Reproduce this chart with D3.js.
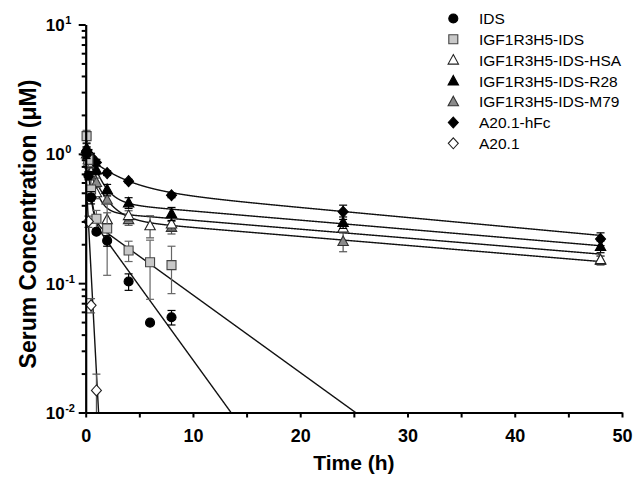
<!DOCTYPE html>
<html><head><meta charset="utf-8">
<script src="https://cdn.jsdelivr.net/npm/d3@7"></script>
<style>
html,body{margin:0;padding:0;background:#fff;}
svg{display:block;font-family:"Liberation Sans",Arial,sans-serif;}
</style></head>
<body><svg id="c" width="633" height="477"></svg>
<script>
// ---------- data ----------
const seriesNames = ["IDS","IGF1R3H5-IDS","IGF1R3H5-IDS-HSA","IGF1R3H5-IDS-R28","IGF1R3H5-IDS-M79","A20.1-hFc","A20.1"];

const idsTime = [0.083,0.25,0.5,1,2,4,6,8];
const idsConc = [1.0,0.68,0.46,0.25,0.213,0.103,0.0495,0.0545];
const idsSD   = [0.08,0.05,0.05,0.01,0.02,0.015,0,0.007];

const igfTime = [0.083,0.25,0.5,1,2,4,6,8];
const igfConc = [1.37,0.9,0.53,0.315,0.265,0.179,0.145,0.138];
const igfSD   = [0.15,0.1,0.1,0.05,0.15,0.032,0.07,0.055];

const hsaTime = [0.083,0.25,0.5,1,2,4,6,8,24,48];
const hsaConc = [1.0,0.85,0.72,0.5,0.31,0.333,0.278,0.287,0.267,0.152];
const hsaSD   = [0.1,0.08,0.07,0.05,0.04,0.03,0.054,0.03,0.02,0.01];

const r28Time = [0.083,0.25,0.5,1,2,4,8,24,48];
const r28Conc = [1.1,1.0,0.9,0.75,0.53,0.418,0.345,0.295,0.192];
const r28SD   = [0.1,0.08,0.07,0.06,0.05,0.04,0.04,0.03,0.02];

const m79Time = [0.083,0.25,0.5,1,2,4,8,24,48];
const m79Conc = [1.05,0.9,0.75,0.6,0.44,0.31,0.27,0.21,0.15];
const m79SD   = [0.08,0.07,0.05,0.05,0.03,0.03,0.03,0.035,0.012];

const hfcTime = [0.083,0.25,0.5,1,2,4,8,24,48];
const hfcConc = [1.05,1.0,0.95,0.857,0.71,0.615,0.478,0.356,0.22];
const hfcSD   = [0.08,0.07,0.06,0.05,0.03,0.02,0.02,0.045,0.025];

const a20Time = [0.25,0.5,1];
const a20Conc = [0.30,0.0674,0.0148];
const a20SD   = [0.03,0.0085,0.005];

// two-phase fit parameters
const fitA     = [1.15, 1.5, 0.9, 0.9, 0.63, 0.426, 0.735];
const fitAlpha = [4.0, 4.0, 1.66, 1.0, 0.77, 0.35, 3.58];
const fitB     = [0.356, 0.322, 0.359, 0.425, 0.316, 0.548, 0];
const fitBeta  = [0.2637, 0.138, 0.01586, 0.01626, 0.01596, 0.01773, 0];
const fitEnd   = [20, 30, 48, 48, 48, 48, 2];

const xTicks = [0,10,20,30,40,50];
const xMinor = [5,15,25,35,45];
const yTicks = [0.01,0.1,1,10];
const yExp   = ["-2","-1","0","1"];

// ---------- chart ----------
const svg = d3.select("#c");
const x = d3.scaleLinear().domain([0,50]).range([85.7,622]);
const y = d3.scaleLog().domain([0.01,10]).range([412.5,24.5]);

const styles = [
  {shape:"circle",  fill:"#000",    stroke:"#000", err:"#000"},
  {shape:"square",  fill:"#c8c8c8", stroke:"#444", err:"#666"},
  {shape:"triangle",fill:"#fff",    stroke:"#222", err:"#555"},
  {shape:"triangle",fill:"#000",    stroke:"#000", err:"#000"},
  {shape:"triangle",fill:"#8a8a8a", stroke:"#333", err:"#555"},
  {shape:"diamond", fill:"#000",    stroke:"#000", err:"#000"},
  {shape:"diamond", fill:"#fff",    stroke:"#222", err:"#555"}
];
function shapePath(s){
  if(s==="circle") return d3.symbol(d3.symbolCircle, 64)();
  if(s==="square") return "M-4.5,-4.5H4.5V4.5H-4.5Z";
  if(s==="triangle") return "M0,-5.5L5.2,4L-5.2,4Z";
  if(s==="diamond") return "M0,-5.5L5,0L0,5.5L-5,0Z";
}

const series = [
  [idsTime,idsConc,idsSD],[igfTime,igfConc,igfSD],[hsaTime,hsaConc,hsaSD],
  [r28Time,r28Conc,r28SD],[m79Time,m79Conc,m79SD],[hfcTime,hfcConc,hfcSD],[a20Time,a20Conc,a20SD]
];

svg.append("clipPath").attr("id","clip").append("rect")
  .attr("x",85.7).attr("y",24.5).attr("width",622-85.7).attr("height",412.5-24.5);

// fit lines
const line = d3.line().x(d=>x(d[0])).y(d=>y(Math.max(d[1],0.005)));
const fitG = svg.append("g").attr("clip-path","url(#clip)");
seriesNames.forEach((n,i)=>{
  const pts = d3.range(0, fitEnd[i]+1e-9, 0.02).map(t=>[t, fitA[i]*Math.exp(-fitAlpha[i]*t)+fitB[i]*Math.exp(-fitBeta[i]*t)]);
  fitG.append("path").attr("d",line(pts)).attr("fill","none").attr("stroke","#111").attr("stroke-width",1.4);
});

// error bars + markers
const order = [4,2,3,5,1,0,6];
order.forEach(i=>{
  const [T,C,S] = series[i], st = styles[i];
  const g = svg.append("g");
  T.forEach((t,k)=>{
    if(S[k]>0){
      const hi = y(C[k]+S[k]), lo = y(Math.max(C[k]-S[k],0.005));
      g.append("line").attr("x1",x(t)).attr("x2",x(t)).attr("y1",hi).attr("y2",Math.min(lo,412.5)).attr("stroke",st.err).attr("stroke-width",1.2);
      g.append("line").attr("x1",x(t)-4).attr("x2",x(t)+4).attr("y1",hi).attr("y2",hi).attr("stroke",st.err).attr("stroke-width",1.2);
      if(lo<412.5) g.append("line").attr("x1",x(t)-4).attr("x2",x(t)+4).attr("y1",lo).attr("y2",lo).attr("stroke",st.err).attr("stroke-width",1.2);
    }
  });
  T.forEach((t,k)=>{
    g.append("path").attr("d",shapePath(st.shape)).attr("transform",`translate(${x(t)},${y(C[k])})`)
      .attr("fill",st.fill).attr("stroke",st.stroke).attr("stroke-width",1.1);
  });
});

// axes
const yMinor = [];
[0.01,0.1,1].forEach(d=>{for(let m=2;m<=9;m++) yMinor.push(d*m);});
const yAx = svg.append("g").attr("transform","translate(85.7,0)")
  .call(d3.axisLeft(y).tickValues(yTicks).tickSize(7).tickFormat(()=>"" ).tickSizeOuter(0));
svg.append("g").attr("transform","translate(85.7,0)")
  .call(d3.axisLeft(y).tickValues(yMinor).tickSize(4).tickFormat(()=>"").tickSizeOuter(0))
  .select(".domain").remove();
const xAx = svg.append("g").attr("transform","translate(0,412.5)")
  .call(d3.axisBottom(x).tickValues(xTicks).tickSize(5).tickSizeOuter(0).tickFormat(d3.format("d")));
svg.append("g").attr("transform","translate(0,412.5)")
  .call(d3.axisBottom(x).tickValues(xMinor).tickSize(5).tickFormat(()=>"").tickSizeOuter(0))
  .select(".domain").remove();
svg.selectAll(".domain").attr("stroke","#000").attr("stroke-width",2.2);
svg.selectAll(".tick line").attr("stroke","#000").attr("stroke-width",2);

xAx.selectAll(".tick text").attr("font-size",18).attr("font-weight","bold").attr("fill","#000")
  .attr("font-family","Liberation Sans, Arial, sans-serif").attr("dy","0.71em").attr("y",17);

yAx.selectAll(".tick").each(function(d,i){
  const t = d3.select(this).select("text");
  t.attr("x",-21).attr("dy","0.35em").attr("font-size",17).attr("font-weight","bold").attr("fill","#000")
   .attr("font-family","Liberation Sans, Arial, sans-serif").attr("text-anchor","end").text("10");
  d3.select(this).append("text").attr("x",-20.5).attr("y",-1).attr("font-size",11).attr("font-weight","bold")
   .attr("fill","#000").attr("text-anchor","start").attr("font-family","Liberation Sans, Arial, sans-serif")
   .text(yExp[yTicks.indexOf(d)]);
});

// axis titles
svg.append("text").attr("x",353.9).attr("y",470).attr("text-anchor","middle")
  .attr("font-size",21).attr("font-weight","bold").text("Time (h)");
svg.append("text").attr("transform","translate(36,224) rotate(-90)").attr("text-anchor","middle")
  .attr("font-size",23).attr("font-weight","bold").text("Serum Concentration (\u03BCM)");

// legend
const leg = svg.append("g");
seriesNames.forEach((n,i)=>{
  const yy = 18.5 + i*20.8, st = styles[i];
  leg.append("path").attr("d",shapePath(st.shape)).attr("transform",`translate(453.3,${yy})`)
    .attr("fill",st.fill).attr("stroke",st.stroke).attr("stroke-width",1.1);
  leg.append("text").attr("x",479).attr("y",yy+5.6).attr("font-size",15.5).attr("fill","#000").text(n);
});
</script></body></html>
